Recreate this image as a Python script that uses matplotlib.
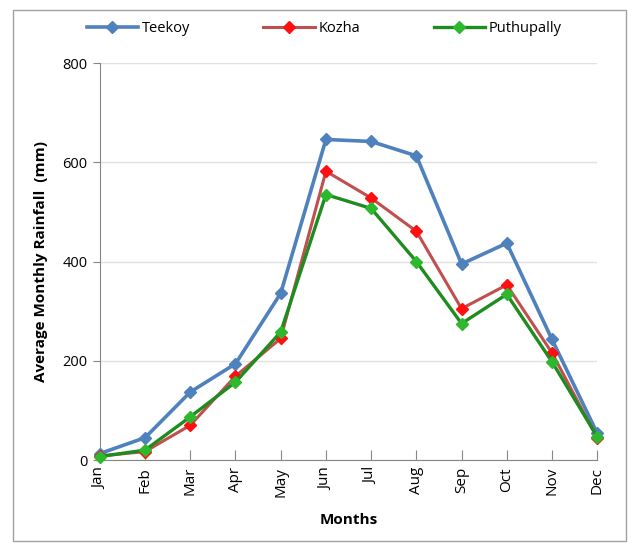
import matplotlib.pyplot as plt
from matplotlib.patches import Rectangle

months = ['Jan', 'Feb', 'Mar', 'Apr', 'May', 'Jun', 'Jul', 'Aug', 'Sep', 'Oct', 'Nov', 'Dec']
teekoy = [13, 45, 137, 194, 336, 646, 642, 613, 395, 437, 243, 54]
kozha = [8, 17, 70, 169, 245, 582, 528, 461, 305, 353, 216, 44]
puthupally = [7, 20, 87, 157, 258, 535, 507, 400, 275, 334, 198, 47]

plt.rcParams['font.family'] = ['Open Sans', 'DejaVu Sans']

fig = plt.figure(figsize=(6.36, 5.46), dpi=100)
ax = fig.add_axes([0.157, 0.1575, 0.782, 0.727])

x = range(len(months))
ax.plot(x, teekoy, color='#4F81BD', lw=2.6, marker='D', ms=6,
        mfc='#4F81BD', mec='#4F81BD', label='Teekoy', clip_on=False, zorder=3)
ax.plot(x, kozha, color='#C0504D', lw=2.2, marker='D', ms=6,
        mfc='#FF1010', mec='#FF1010', label='Kozha', clip_on=False, zorder=4)
ax.plot(x, puthupally, color='#1E8C1E', lw=2.4, marker='D', ms=6,
        mfc='#2DB82D', mec='#2DB82D', label='Puthupally', clip_on=False, zorder=5)

ax.set_xlim(0, 11)
ax.set_ylim(0, 800)
ax.set_yticks([0, 200, 400, 600, 800])
ax.set_xticks(list(x))
ax.set_xticklabels(months, rotation=90, fontsize=11)
ax.tick_params(axis='y', labelsize=10.5, length=5, color='#868686', pad=4)
ax.tick_params(axis='x', direction='in', length=7, color='#868686', pad=5)
ax.grid(axis='y', color='#E0E0E0', lw=1)
ax.set_axisbelow(True)

for side in ['top', 'right']:
    ax.spines[side].set_visible(False)
for side in ['left', 'bottom']:
    ax.spines[side].set_color('#868686')

ax.set_ylabel('Average Monthly Rainfall  (mm)', fontsize=11, fontweight='bold', labelpad=10)
ax.set_xlabel('Months', fontsize=11, fontweight='bold', labelpad=12)

fig.legend(loc='center', bbox_to_anchor=(0.51, 0.948), ncol=3, frameon=False,
           fontsize=10.5, handlelength=3.5, columnspacing=5.0, handletextpad=0.3)

fig.patches.append(Rectangle((0.02, 0.01), 0.965, 0.972, transform=fig.transFigure,
                             fill=False, edgecolor='#A0A0A0', lw=1))

fig.savefig('out.png', dpi=100)
